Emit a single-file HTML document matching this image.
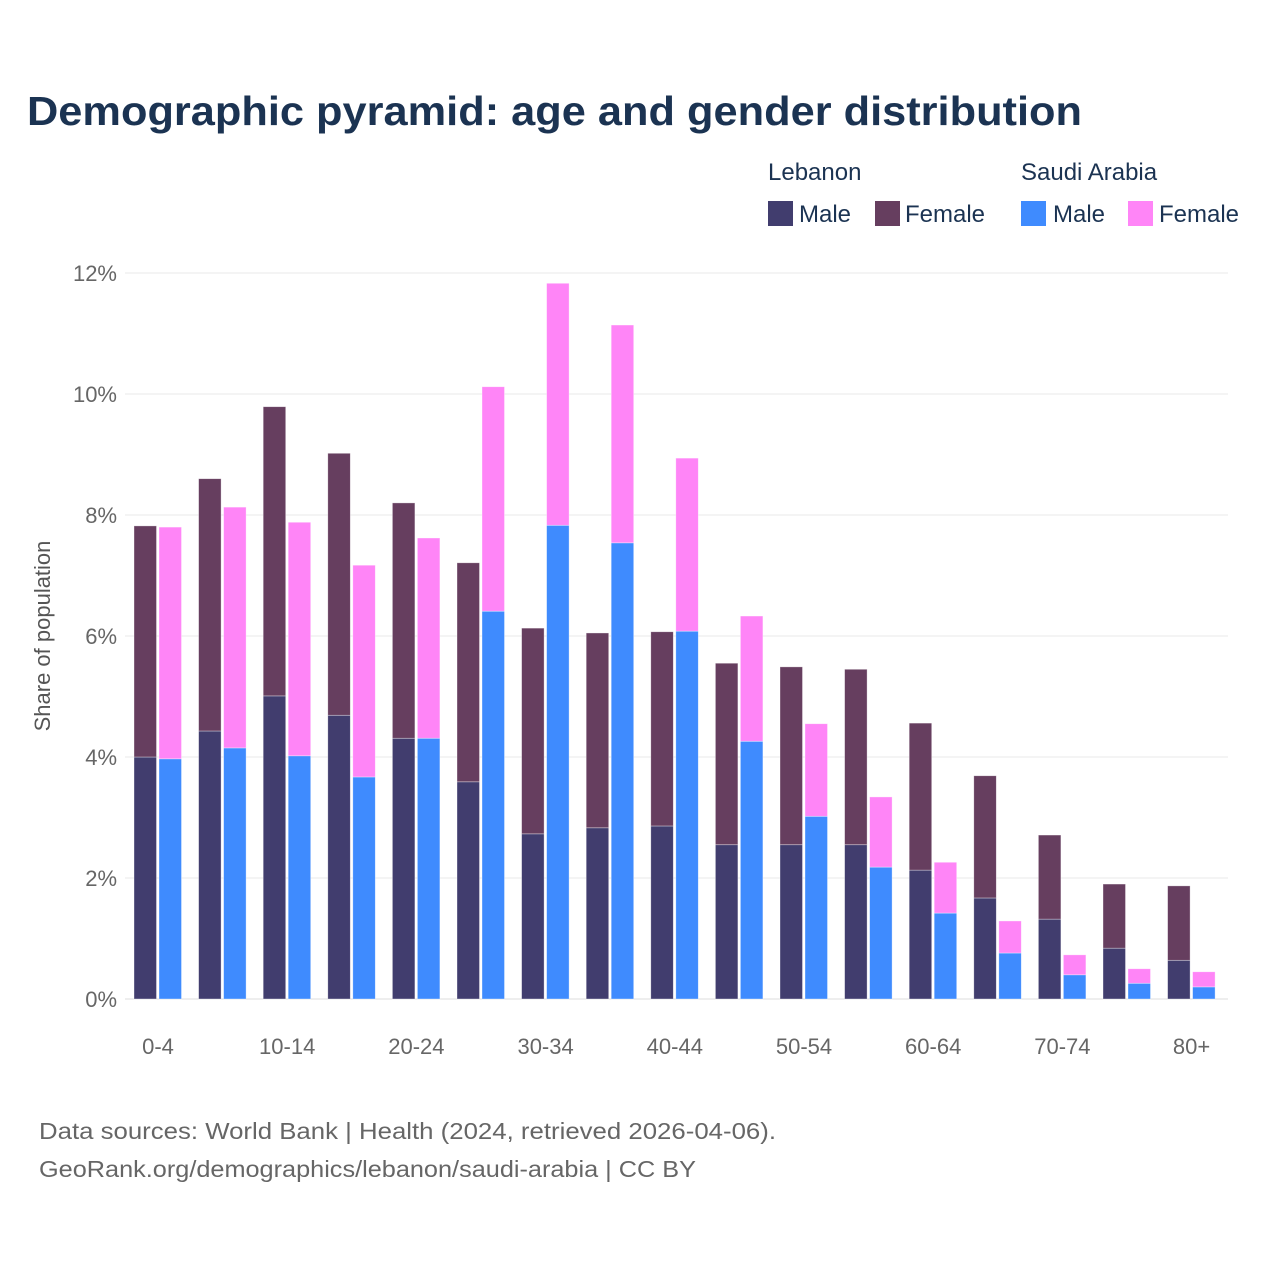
<!DOCTYPE html>
<html><head><meta charset="utf-8"><style>
body{margin:0;background:#fff;}
svg text{font-family:"Liberation Sans",sans-serif;}
</style></head><body>
<svg id="chart" width="1280" height="1280" viewBox="0 0 1280 1280">
<rect width="1280" height="1280" fill="#fff"/>
<text x="27" y="125" font-size="41" font-weight="bold" fill="#1b3352" textLength="1055" lengthAdjust="spacingAndGlyphs">Demographic pyramid: age and gender distribution</text>
<g font-size="24" fill="#1b3352">
<text x="768" y="180">Lebanon</text>
<rect x="768" y="201" width="25" height="25" fill="#413d6e"/>
<text x="799" y="222">Male</text>
<rect x="875" y="201" width="25" height="25" fill="#663e5f"/>
<text x="905" y="222">Female</text>
<text x="1021" y="180">Saudi Arabia</text>
<rect x="1021" y="201" width="25" height="25" fill="#3f8bfe"/>
<text x="1053" y="222">Male</text>
<rect x="1128" y="201" width="25" height="25" fill="#ff85f7"/>
<text x="1159" y="222">Female</text>
</g>
<g id="grid"></g>
<g id="bars"></g>
<g id="xlabels"></g>
<text transform="translate(50,636) rotate(-90)" text-anchor="middle" font-size="22" fill="#555">Share of population</text>
<text x="39" y="1139" font-size="23" fill="#666" textLength="737" lengthAdjust="spacingAndGlyphs">Data sources: World Bank | Health (2024, retrieved 2026-04-06).</text>
<text x="39" y="1177" font-size="23" fill="#666" textLength="657" lengthAdjust="spacingAndGlyphs">GeoRank.org/demographics/lebanon/saudi-arabia | CC BY</text>
</svg>
<script>
const categories=["0-4","5-9","10-14","15-19","20-24","25-29","30-34","35-39","40-44","45-49","50-54","55-59","60-64","65-69","70-74","75-79","80+"];
const lebMale=[4.0,4.43,5.01,4.69,4.31,3.59,2.73,2.83,2.86,2.55,2.55,2.55,2.13,1.67,1.32,0.84,0.64];
const lebFemale=[3.82,4.17,4.78,4.33,3.89,3.62,3.40,3.22,3.21,3.00,2.94,2.90,2.43,2.02,1.39,1.06,1.23];
const sauMale=[3.97,4.15,4.02,3.67,4.31,6.41,7.83,7.54,6.08,4.26,3.02,2.18,1.42,0.76,0.40,0.26,0.20];
const sauFemale=[3.83,3.98,3.86,3.50,3.31,3.71,4.00,3.60,2.86,2.07,1.53,1.16,0.84,0.53,0.33,0.24,0.25];
const yTicks=[0,2,4,6,8,10,12];
const NS="http://www.w3.org/2000/svg";
const y0=999,pxPer=60.5;
function yScale(v){return y0-v*pxPer;}
function xGroup(i){return 134+i*64.6;}
function mk(tag,attrs,parent){const e=document.createElementNS(NS,tag);for(const k in attrs)e.setAttribute(k,attrs[k]);parent.appendChild(e);return e;}
const grid=document.getElementById('grid');
yTicks.forEach(t=>{
  const l=mk('line',{x1:125,x2:1228,y1:yScale(t),y2:yScale(t),stroke:t===0?'#dddddd':'#e8e8e8','stroke-width':1},grid);
  
  
  const tx=mk('text',{x:117,y:yScale(t)+8,'text-anchor':'end','font-size':22,fill:'#666'},grid);
  tx.textContent=t+'%';
  
  
});
const bars=document.getElementById('bars');
const bw=22.5;
function bar(x,v0,v1,fill,name){
  const r=mk('rect',{x:x,y:yScale(v1),width:bw,height:yScale(v0)-yScale(v1),fill:fill,stroke:'#ffffff','stroke-opacity':0.5,'stroke-width':0.7},bars);
  
  
}
categories.forEach((c,i)=>{
  const x=xGroup(i);
  bar(x,0,lebMale[i],'#413d6e','bar-lebanon-male-'+c);
  bar(x,lebMale[i],lebMale[i]+lebFemale[i],'#663e5f','bar-lebanon-female-'+c);
  bar(x+25,0,sauMale[i],'#3f8bfe','bar-saudi-male-'+c);
  bar(x+25,sauMale[i],sauMale[i]+sauFemale[i],'#ff85f7','bar-saudi-female-'+c);
  if(i%2===0){
    const t=mk('text',{x:x+24,y:1054,'text-anchor':'middle','font-size':22,fill:'#666'},document.getElementById('xlabels'));
    t.textContent=c;
    
    
  }
});
</script>
</body></html>
